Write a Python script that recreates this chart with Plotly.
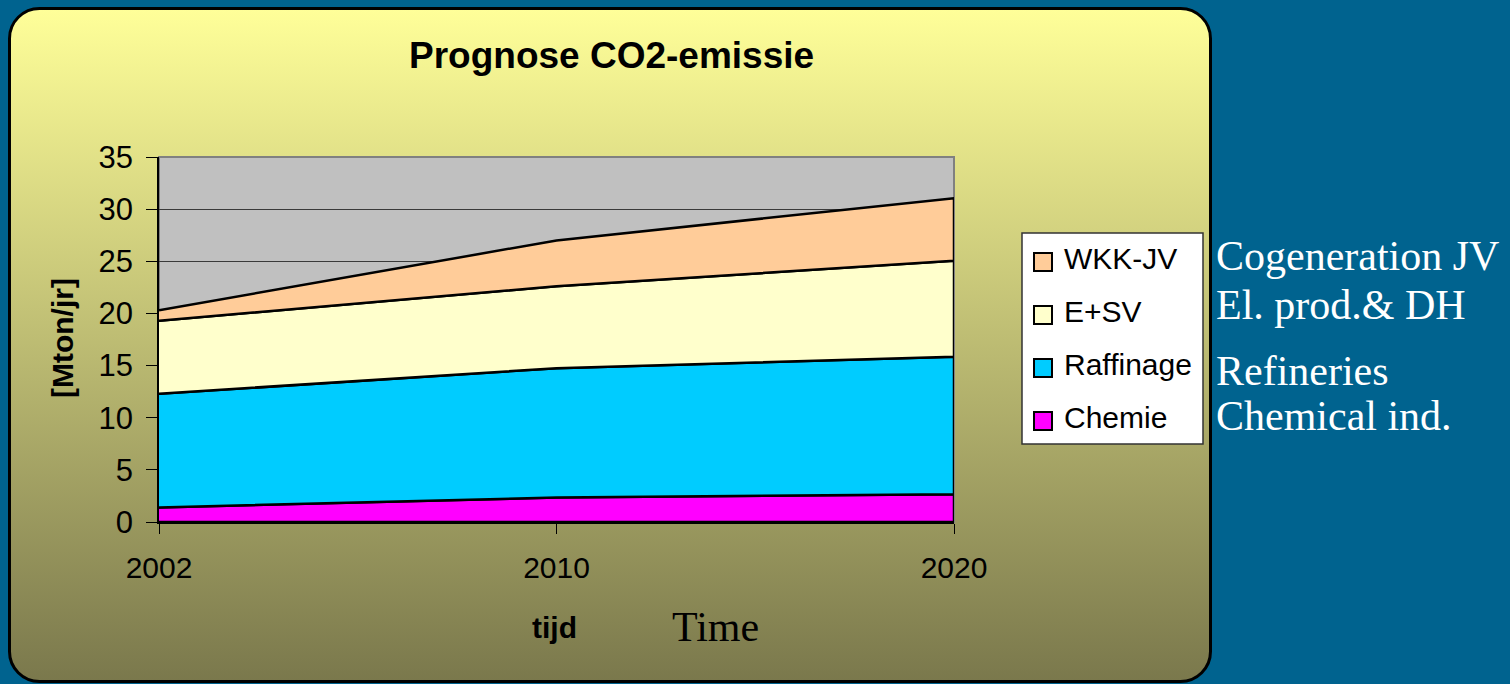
import base64
import plotly.graph_objects as go

# ---------------- data ----------------
categories = ["2002", "2010", "2020"]
series_names = ["Chemie", "Raffinage", "E+SV", "WKK-JV"]
chemie = [1.4, 2.35, 2.65]
raffinage = [10.9, 12.4, 13.2]
esv = [7.0, 7.85, 9.2]
wkk = [1.0, 4.4, 6.0]
series_colors = ["#FF00FF", "#00CCFF", "#FFFFCC", "#FFCC99"]
english_labels = ["Cogeneration JV", "El. prod.& DH", "Refineries", "Chemical ind."]

# ---------------- layout geometry ----------------
W, H = 1510, 684
L, R, T, B = 159, 954, 157, 522
BG = "#00638F"


def px_x(x):
    return (x - L) / (R - L)


def px_y(y):
    return (B - y) / (B - T)


fig = go.Figure()

# stacked areas drawn as closed polygons (Excel-style outlines)
values = [chemie, raffinage, esv, wkk]
lower = [0.0] * len(categories)
for name, vals, col in zip(series_names, values, series_colors):
    upper = [a + b for a, b in zip(lower, vals)]
    fig.add_trace(go.Scatter(
        x=categories + categories[::-1],
        y=upper + lower[::-1],
        fill="toself",
        fillcolor=col,
        mode="lines",
        line=dict(color="#000000", width=2.5),
        name=name,
        showlegend=False,
        hoverinfo="skip",
    ))
    lower = upper

# background panel (rounded rect with vertical gradient)
pw, ph = 1212 - 8, 683 - 7
svg = (
    f"<svg xmlns='http://www.w3.org/2000/svg' width='{pw}' height='{ph}' "
    f"viewBox='0 0 {pw} {ph}' preserveAspectRatio='none'>"
    "<defs><linearGradient id='g' x1='0' y1='0' x2='0' y2='1'>"
    "<stop offset='0' stop-color='#FFFF99'/>"
    "<stop offset='1' stop-color='#7A784C'/>"
    "</linearGradient></defs>"
    f"<rect x='1.5' y='1.5' width='{pw-3}' height='{ph-3}' rx='30' ry='30' "
    "fill='url(#g)' stroke='#000' stroke-width='3'/></svg>"
)
src = "data:image/svg+xml;base64," + base64.b64encode(svg.encode()).decode()

fig.add_layout_image(dict(
    source=src, xref="paper", yref="paper",
    x=px_x(8), y=px_y(7),
    sizex=pw / (R - L), sizey=ph / (B - T),
    xanchor="left", yanchor="top", sizing="stretch", layer="below",
))

AR = "Liberation Sans, Arial, sans-serif"
TM = "Liberation Serif, Times New Roman, serif"

shapes = [
    # grey plot area (drawn above the panel image, below gridlines)
    dict(type="rect", xref="paper", yref="paper", x0=0, x1=1, y0=0, y1=1,
         fillcolor="#C0C0C0", line=dict(color="#808080", width=2), layer="below"),
]
annotations = [
    dict(text="<b>Prognose CO2-emissie</b>", x=px_x(611), y=px_y(56),
         font=dict(family=AR, size=37, color="#000")),
    dict(text="<b>[Mton/jr]</b>", x=px_x(62), y=px_y(338), textangle=-90,
         font=dict(family=AR, size=30, color="#000")),
    dict(text="<b>tijd</b>", x=px_x(554), y=px_y(627),
         font=dict(family=AR, size=30, color="#000")),
    dict(text="Time", x=px_x(715), y=px_y(627),
         font=dict(family=TM, size=42, color="#000")),
]

# legend box (manual, Excel style)
shapes.append(dict(type="rect", xref="paper", yref="paper",
                   x0=px_x(1022), x1=px_x(1203), y0=px_y(444), y1=px_y(233),
                   fillcolor="#FFFFFF", line=dict(color="#333333", width=1.5),
                   layer="above"))
legend_rows = [262, 315, 368, 421]
legend_order = list(range(len(series_names)))[::-1]
for row_y, idx in zip(legend_rows, legend_order):
    shapes.append(dict(type="rect", xref="paper", yref="paper",
                       x0=px_x(1034), x1=px_x(1052), y0=px_y(row_y + 9), y1=px_y(row_y - 9),
                       fillcolor=series_colors[idx], line=dict(color="#000", width=2),
                       layer="above"))
    annotations.append(dict(text=series_names[idx], x=px_x(1062), y=px_y(row_y - 4),
                            xanchor="left", font=dict(family=AR, size=30, color="#000")))

for lab, yy in zip(english_labels, [256, 305, 371, 416]):
    annotations.append(dict(text=lab, x=px_x(1214), y=px_y(yy), xanchor="left",
                            font=dict(family=TM, size=42, color="#FFFFFF")))

for a in annotations:
    a.setdefault("xref", "paper")
    a.setdefault("yref", "paper")
    a.setdefault("showarrow", False)
    a.setdefault("xanchor", "center")
    a.setdefault("yanchor", "middle")

fig.update_layout(
    width=W, height=H,
    margin=dict(l=L, r=W - R, t=T, b=H - B, pad=0),
    paper_bgcolor=BG,
    plot_bgcolor="#C0C0C0",
    showlegend=False,
    shapes=shapes,
    annotations=annotations,
    xaxis=dict(
        type="category", categoryorder="array", categoryarray=categories,
        range=[0, len(categories) - 1], showgrid=False, zeroline=False,
        showline=True, linecolor="#000", linewidth=1.5,
        ticks="outside", ticklen=10, tickcolor="#000", tickwidth=1,
        tickfont=dict(family=AR, size=30, color="#000"),
        ticklabelstandoff=8, fixedrange=True,
    ),
    yaxis=dict(
        range=[0, 35], dtick=5, showgrid=True, gridcolor="#3A3A3A", gridwidth=1,
        zeroline=False, showline=True, linecolor="#000", linewidth=1.5,
        ticks="outside", ticklen=11, tickcolor="#000", tickwidth=1,
        tickfont=dict(family=AR, size=31, color="#000"),
        ticklabelstandoff=7, fixedrange=True,
    ),
)

fig.write_html(
    "out.html",
    config={"displayModeBar": False},
    post_script=f"document.body.style.margin='0';document.body.style.background='{BG}';",
)
